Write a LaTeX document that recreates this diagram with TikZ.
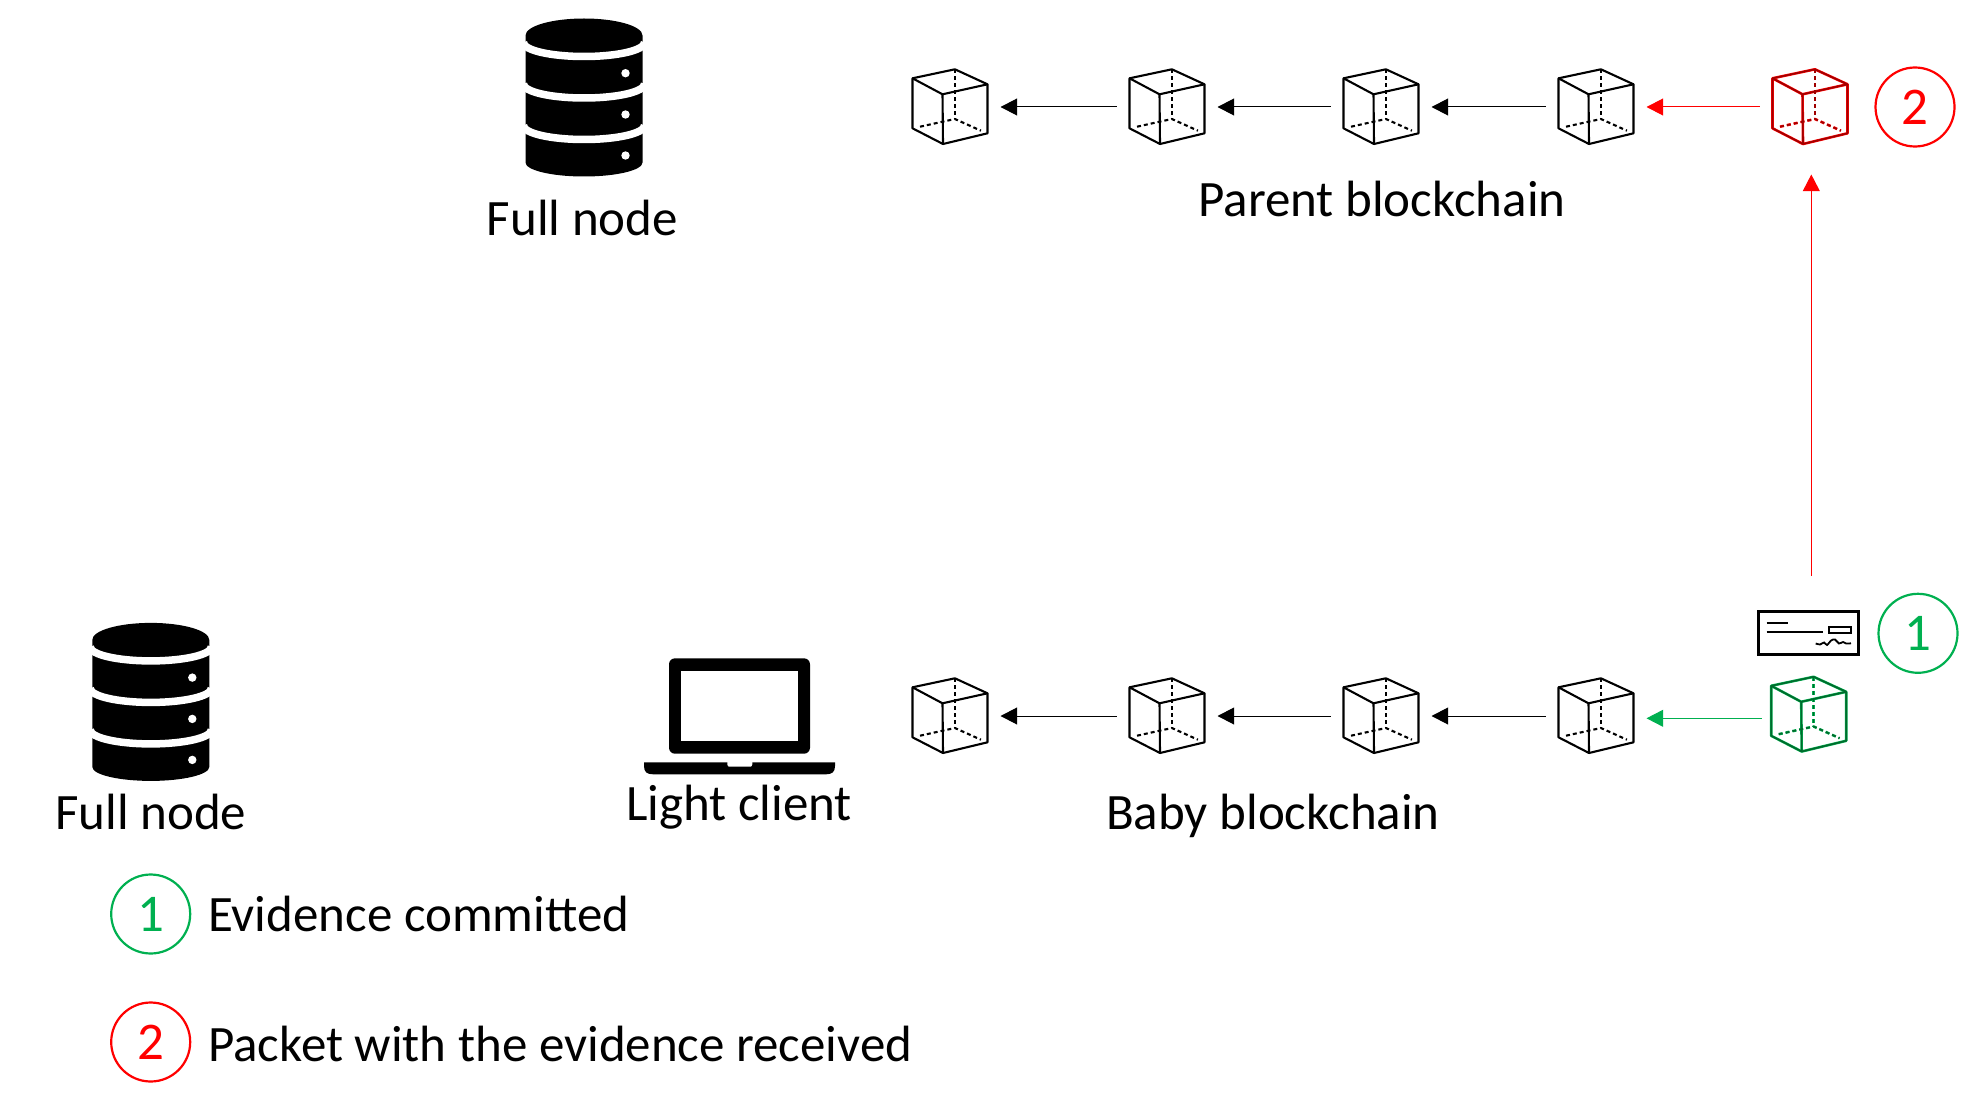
\documentclass[tikz,border=0pt]{standalone}
\usepackage{fontspec}
\setmainfont{Carlito}
\usetikzlibrary{arrows.meta}
\definecolor{evgreen}{HTML}{00B050}
\definecolor{pkred}{HTML}{FF0000}
\definecolor{cubegreen}{HTML}{006A2C}
\definecolor{cubered}{HTML}{A00000}
\tikzset{
  x=1pt,y=-1pt,
  label text/.style={font=\fontsize{51}{60}\selectfont,inner sep=0pt,text=black},
  cubebox/.style={minimum width=101pt,minimum height=135pt,inner sep=0pt,outer sep=0pt},
  link/.style={line width=1pt,-{Triangle[length=16.7pt,width=17pt]}},
  badge/.style={circle,draw,line width=2.2pt,minimum size=79pt,inner sep=0pt,font=\fontsize{53}{60}\selectfont},
  pics/cubeicon/.style 2 args={code={
    \begin{scope}[draw=#1,line width=#2,line join=round]
      \draw (-37.5,-28.7) -- (4.9,-37.7) -- (37.5,-22.7) -- (37.5,26.3) -- (-7,37) -- (-37.5,21.3) -- cycle;
      \draw (-37.5,-28.7) -- (-7.5,-12.7) -- (37.5,-22.7);
      \draw (-7.5,-12.7) -- (-7,37);
      \draw[dash pattern=on 4pt off 3pt] (4.9,-37.7) -- (4.9,12);
      \draw[dash pattern=on 4pt off 3pt] (-30,19.7) -- (4.9,12) -- (30.9,23.7);
    \end{scope}
  }},
  pics/dbicon/.style={code={
    \fill[black] (525,35) arc[start angle=180,end angle=0,x radius=58.5pt,y radius=17pt] -- (642,162)
      arc[start angle=0,end angle=-180,x radius=58.5pt,y radius=14pt] -- cycle;
    \foreach \yy in {42,83.5,125}{
      \draw[white,line width=7.5pt] (523,\yy) arc[start angle=180,end angle=360,x radius=60.5pt,y radius=14pt];
    }
    \foreach \yy in {72.7,114,155}{\fill[white] (625,\yy) circle[radius=4.2pt];}
  }}
}
\begin{document}
\begin{tikzpicture}
\useasboundingbox (0,0) rectangle (1978,1110);
% databases
\pic at (0.5,0.5) {dbicon};
\pic at (-432.7,604.9) {dbicon};
% laptop
\fill[black,rounded corners=6pt] (669,658.3) rectangle (810,753.7);
\fill[white] (681,670.7) rectangle (797.7,741);
\fill[black] (644,762.3) -- (727.3,762.3) -- (727.3,765) .. controls (727.3,766.7) and (729,766.7) .. (731,766.7)
  -- (748.5,766.7) .. controls (752.3,766.7) and (752.3,766.7) .. (752.3,762.3) -- (835,762.3) -- (835,766)
  .. controls (835,772) and (832,774.3) .. (826,774.3) -- (653,774.3) .. controls (647,774.3) and (644,772) .. (644,766) -- cycle;
% cubes, parent chain
\foreach \n/\cx in {a1/950,a2/1167,a3/1381,a4/1596}{
  \node[cubebox] (\n) at (\cx,107) {};
  \pic at (\cx,107) {cubeicon={black}{2.1pt}};
}
\node[cubebox] (a5) at (1810,107) {};
\pic at (1810,107) {cubeicon={pkred}{2.6pt}};
\pic at (1810,107) {cubeicon={cubered}{1.6pt}};
% cubes, baby chain
\foreach \n/\cx in {b1/950,b2/1167,b3/1381,b4/1596}{
  \node[cubebox] (\n) at (\cx,716) {};
  \pic at (\cx,716) {cubeicon={black}{2.1pt}};
}
\node[cubebox,minimum width=94pt] (b5) at (1808.7,718.3) {};
\pic at (1808.7,714.5) {cubeicon={evgreen}{2.6pt}};
\pic at (1808.7,714.5) {cubeicon={cubegreen}{1.6pt}};
% connectors
\draw[link] (a2.west) -- (a1.east);
\draw[link] (a3.west) -- (a2.east);
\draw[link] (a4.west) -- (a3.east);
\draw[link,pkred] (a5.west) -- (a4.east);
\draw[link] (b2.west) -- (b1.east);
\draw[link] (b3.west) -- (b2.east);
\draw[link] (b4.west) -- (b3.east);
\draw[link,evgreen] (b5.west) -- (b4.east |- b5.west);
% cheque
\node[draw,line width=2.4pt,minimum width=100pt,minimum height=43pt,inner sep=0pt,outer sep=0pt] (chq) at (1808.5,633) {};
\draw[line width=2pt] (1766.7,622.7) -- (1788.3,622.7);
\draw[line width=2pt] (1766.7,632.3) -- (1823.3,632.3);
\draw[line width=1.8pt] (1829,626.7) rectangle (1850.7,633.3);
\draw[line width=1.8pt,smooth] plot coordinates {(1815.7,643.5) (1820,644.5) (1824,642.5) (1827,645) (1831,640.5) (1835,639.5) (1839,643.5) (1843,642) (1846,643.5) (1851,643.3)};
\draw[link,pkred,shorten <=36pt] ([xshift=2.8pt]chq.north) -- ([xshift=1.3pt]a5.south);
% badges
\node[badge,draw=pkred,text=pkred] (n2) at (1915,107) {2};
\node[badge,draw=evgreen,text=evgreen] (n1) at (1918,633.3) {1};
\node[badge,draw=evgreen,text=evgreen] (l1) at (150.7,914) {1};
\node[badge,draw=pkred,text=pkred] (l2) at (150.7,1042) {2};
% labels
\node[label text] (t1) at (582.5,218) {Full node};
\node[label text] (t2) at (1382,198.5) {Parent blockchain};
\node[label text] (t3) at (151,812) {Full node};
\node[label text] (t4) at (739,807.5) {Light client};
\node[label text] (t5) at (1273,816) {Baby blockchain};
\node[label text,anchor=west] (t6) at (208,914) {Evidence committed};
\node[label text,anchor=west] (t7) at (208,1044) {Packet with the evidence received};
\end{tikzpicture}
\end{document}
